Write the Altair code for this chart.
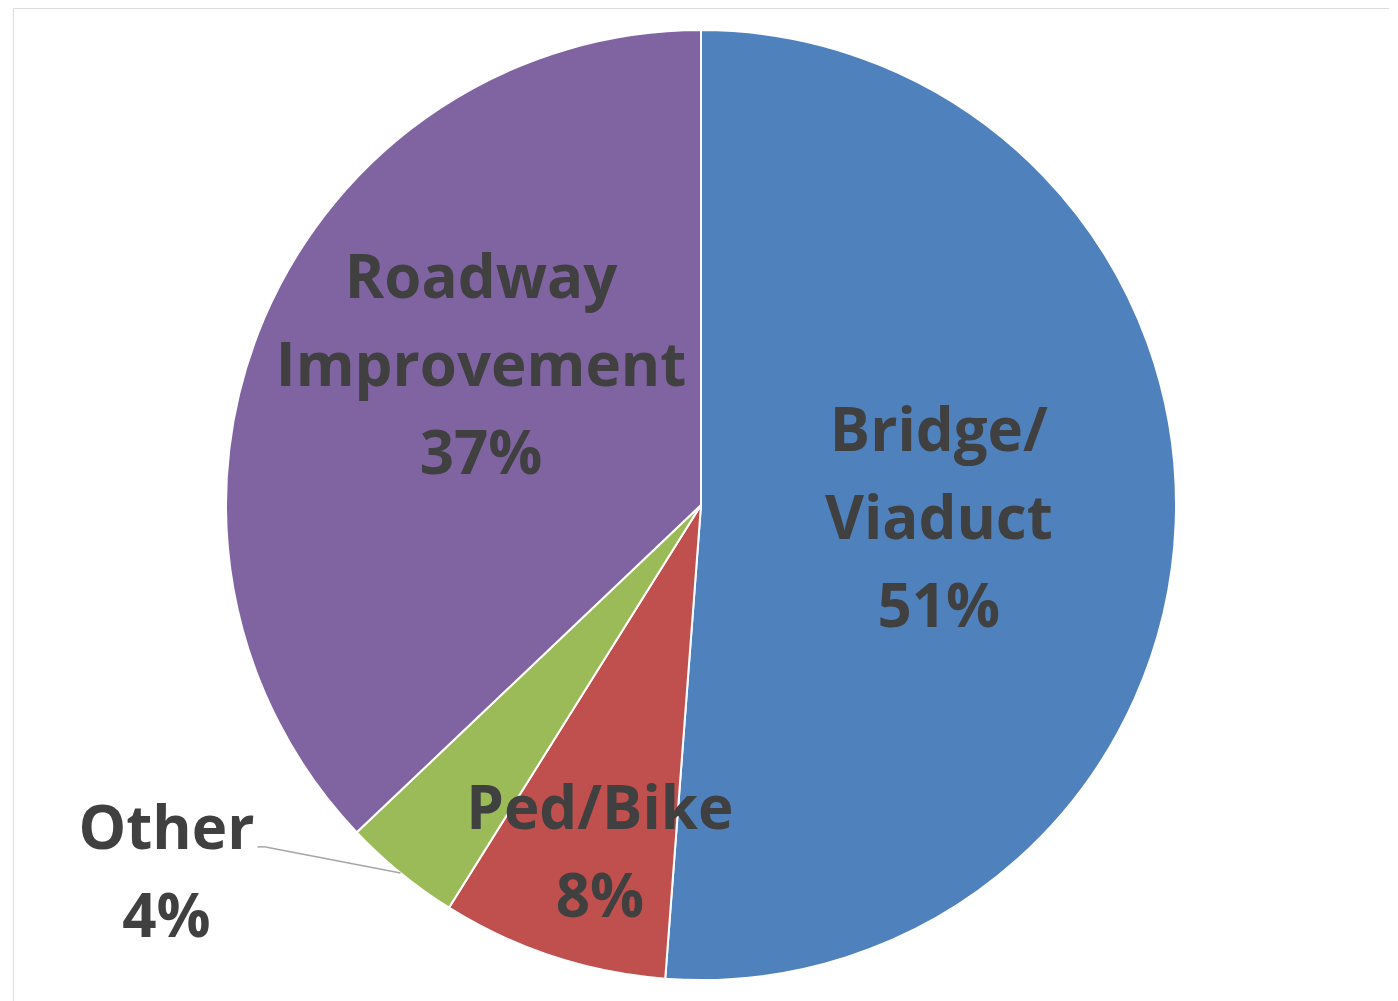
import math
import altair as alt
import pandas as pd

categories = ["Bridge/Viaduct", "Ped/Bike", "Other", "Roadway Improvement"]
values = [51.2, 7.7, 4.0, 37.1]
label_lines = [["Bridge/", "Viaduct", "51%"], ["Ped/Bike", "8%"], ["Other", "4%"], ["Roadway", "Improvement", "37%"]]
colors = ["#4F81BD", "#C0504D", "#9BBB59", "#8064A2"]

df = pd.DataFrame({"category": categories, "value": values, "order": list(range(len(values)))})
df["label"] = label_lines

W, H = 1376, 994
R = 475
CX, CY = W / 2, H / 2
LH = 88

base = alt.Chart(df)

pie = base.mark_arc(outerRadius=R, stroke="white", strokeWidth=2).encode(
    theta=alt.Theta("value:Q", stack=True),
    order=alt.Order("order:Q"),
    color=alt.Color("category:N", scale=alt.Scale(domain=categories, range=colors), legend=None),
)

mid = base.transform_joinaggregate(total="sum(value)").transform_window(
    cum="sum(value)", sort=[alt.SortField("order")], frame=[None, 0]
).transform_calculate(mid="(datum.cum - datum.value/2) / datum.total * 2 * PI")

font = dict(font="Open Sans", fontWeight="bold", fontSize=60, color="#404040", lineHeight=LH,
            align="center", baseline="middle")

label_cfg = {
    "Bridge/Viaduct": dict(radius=238, dx=0, dy=6 - 87),
    "Ped/Bike": dict(radius=366, dx=13, dy=-42),
    "Other": dict(radius=600, dx=-155, dy=-97 - 42),
    "Roadway Improvement": dict(radius=260, dx=19, dy=-35 - 87),
}

layers = [pie]
for cat, cfg in label_cfg.items():
    layers.append(
        mid.transform_filter(alt.datum.category == cat)
        .mark_text(**font, **cfg)
        .encode(theta=alt.Theta("mid:Q", scale=None), text="label")
    )

# leader line for "Other", ending on the slice edge at its mid angle
total = sum(values)
cum = sum(values[:3])
ang = (cum - values[2] / 2) / total * 2 * math.pi
ex, ey = CX + R * math.sin(ang), CY - R * math.cos(ang)
sx, sy = ex - 135, ey - 26
leader = alt.Chart(pd.DataFrame({"k": [0]})).mark_rule(color="#A6A6A6", strokeWidth=1.5).encode(
    x=alt.value(sx), y=alt.value(sy), x2=alt.value(ex), y2=alt.value(ey)
)
leader2 = alt.Chart(pd.DataFrame({"k": [0]})).mark_rule(color="#A6A6A6", strokeWidth=1.5).encode(
    x=alt.value(sx - 8), y=alt.value(sy), x2=alt.value(sx), y2=alt.value(sy)
)
layers += [leader, leader2]

chart = alt.layer(*layers).properties(
    width=W, height=H, padding={"left": 5, "top": 0, "right": 0, "bottom": 0}
).configure_view(stroke="#D9D9D9", strokeWidth=2.5).configure(background="white")

chart.save("out.html", embed_options={"renderer": "svg", "actions": False})
